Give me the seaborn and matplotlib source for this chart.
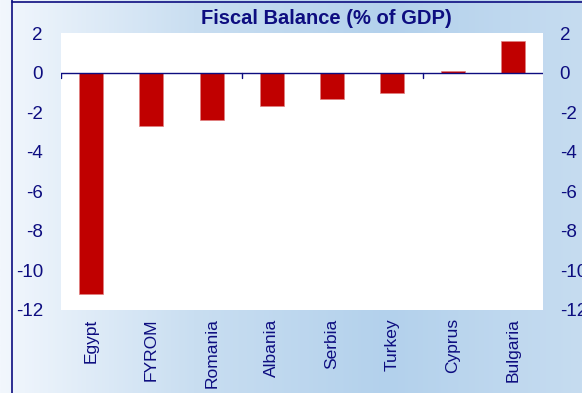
import numpy as np
import pandas as pd
import matplotlib.pyplot as plt
import seaborn as sns
from matplotlib.colors import LinearSegmentedColormap

# data
countries = ["Egypt", "FYROM", "Romania", "Albania", "Serbia", "Turkey", "Cyprus", "Bulgaria"]
balance = [-11.2, -2.7, -2.4, -1.7, -1.35, -1.05, 0.1, 1.6]
yticks = [2, 0, -2, -4, -6, -8, -10, -12]

df = pd.DataFrame({"country": countries, "balance": balance})

sns.set_style("white")
plt.rcParams['font.family'] = ['Liberation Sans', 'DejaVu Sans']
navy = "#0d0d80"

fig = plt.figure(figsize=(5.82, 3.93), dpi=100)

# gradient background
bg = fig.add_axes([0, 0, 1, 1], zorder=-10)
grad = np.linspace(0, 1, 256).reshape(1, -1)
cmap = LinearSegmentedColormap.from_list("bg", ["#f2f7fd", "#c9def1", "#b3d1ec", "#c6dcf0"])
bg.imshow(grad, aspect="auto", cmap=cmap, extent=[0, 1, 0, 1])
bg.set_xlim(0, 1)
bg.set_ylim(0, 1)
bg.axis("off")
bg.plot([12 / 582, 12 / 582], [0, 1], color=navy, lw=1.2)
bg.plot([12 / 582, 1], [1 - 1.5 / 393, 1 - 1.5 / 393], color=navy, lw=1.2)

ax = fig.add_axes([61 / 582, 1 - 310 / 393, 482 / 582, 277 / 393])
sns.barplot(data=df, x="country", y="balance", color="#c00000", width=0.4,
            saturation=1, ax=ax, edgecolor="#e08080", linewidth=0.5)
ax.set_facecolor("white")
ax.set_ylim(-12, 2)
ax.set_xlim(-0.5, len(countries) - 0.5)
ax.set_yticks(yticks)
ax.set_yticklabels([str(t) for t in yticks])
ax.tick_params(axis="y", length=0, labelsize=13.5, labelcolor=navy, pad=13)
ax.tick_params(axis="x", length=0, labelsize=12.5, labelcolor=navy, rotation=90, pad=6)
ax.set_xlabel("")
ax.set_ylabel("")
for s in ax.spines.values():
    s.set_visible(False)
ax.axhline(0, color=navy, lw=1)
for xb in [-0.5, 2.5, 5.5]:
    ax.plot([xb, xb], [0, -0.25], color=navy, lw=1)

ax2 = ax.twinx()
ax2.set_ylim(-12, 2)
ax2.set_yticks(yticks)
ax2.set_yticklabels([str(t) for t in yticks])
ax2.tick_params(axis="y", length=0, labelsize=13.5, labelcolor=navy, pad=12)
for s in ax2.spines.values():
    s.set_visible(False)

fig.text(326 / 582, 1 - 18 / 393, "Fiscal Balance (% of GDP)", ha="center", va="center",
         fontsize=14.5, fontweight="bold", color=navy)

fig.savefig("out.png", dpi=100)
